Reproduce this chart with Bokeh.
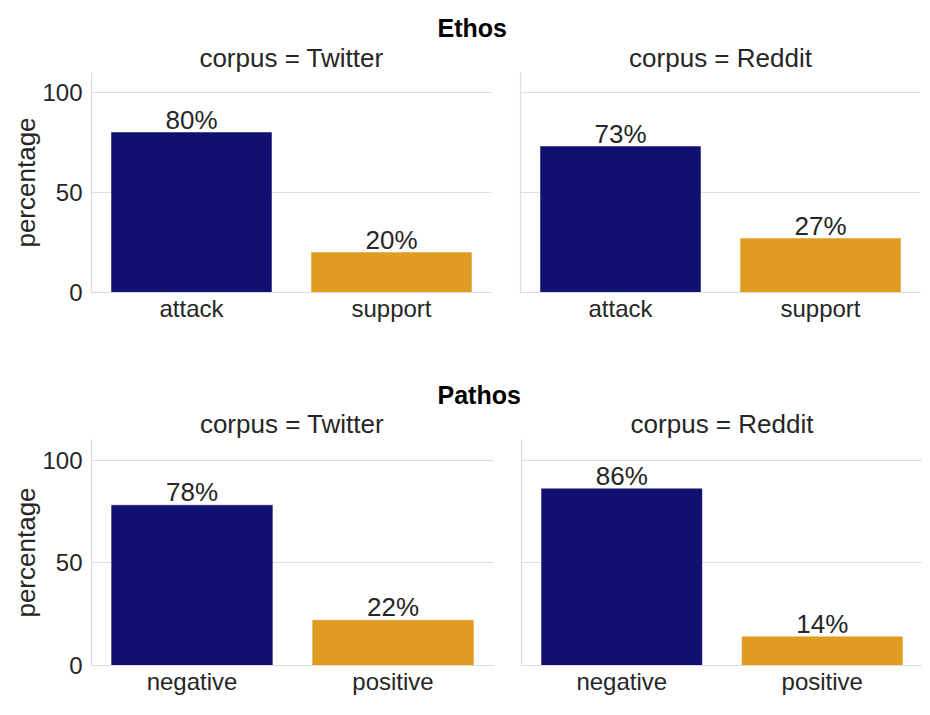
from bokeh.plotting import figure
from bokeh.models import Range1d, FactorRange, FixedTicker, ColumnDataSource
from bokeh.layouts import column, row
from bokeh.embed import file_html
from bokeh.resources import INLINE
from bokeh.core.properties import value

# ---------------- data ----------------
ethos_categories = ["attack", "support"]
pathos_categories = ["negative", "positive"]
corpora = ["Twitter", "Reddit"]
ethos_twitter = [80, 20]
ethos_reddit = [73, 27]
pathos_twitter = [78, 22]
pathos_reddit = [86, 14]
y_ticks = [0, 50, 100]
y_max = 110
section_titles = ["Ethos", "Pathos"]

# ---------------- style ----------------
FONT = "Liberation Sans"
TXT = "#262626"
GRID = "#dddddd"
BAR_COLORS = ["#101070", "#df9c20"]
TOTAL_W = 914


def panel(cats, vals, width, height, bl, br, bb, show_y):
    src = ColumnDataSource(dict(
        cat=cats, val=vals, label=[f"{v}%" for v in vals],
        color=BAR_COLORS[:len(cats)],
    ))
    p = figure(x_range=FactorRange(*cats), y_range=Range1d(0, y_max),
               width=width, height=height, output_backend="svg",
               toolbar_location=None,
               min_border_left=bl, min_border_right=br,
               min_border_top=0, min_border_bottom=bb)
    p.outline_line_color = None
    p.background_fill_color = "white"
    p.border_fill_color = "white"

    p.vbar(x="cat", top="val", width=0.8, source=src,
           fill_color="color", line_color="color", line_width=0.5)
    p.text(x="cat", y="val", text="label", source=src,
           text_align="center", text_baseline="bottom", y_offset=2,
           text_font=value(FONT), text_font_size="26px", text_color=TXT)

    p.xgrid.grid_line_color = None
    p.ygrid.grid_line_color = GRID
    p.ygrid.grid_line_width = 1.2
    p.ygrid.ticker = FixedTicker(ticks=y_ticks)

    p.xaxis.axis_line_color = GRID
    p.xaxis.axis_line_width = 1.2
    p.xaxis.major_tick_line_color = None
    p.xaxis.minor_tick_line_color = None
    p.xaxis.major_tick_out = 0
    p.xaxis.major_tick_in = 0
    p.xaxis.major_label_text_font = FONT
    p.xaxis.major_label_text_font_size = "24px"
    p.xaxis.major_label_text_color = TXT
    p.xaxis.major_label_standoff = 2

    p.yaxis.axis_line_color = GRID
    p.yaxis.axis_line_width = 1.2
    p.yaxis.major_tick_line_color = None
    p.yaxis.minor_tick_line_color = None
    p.yaxis.major_tick_out = 0
    p.yaxis.major_tick_in = 0
    if show_y:
        p.yaxis.ticker = FixedTicker(ticks=y_ticks)
        p.yaxis.axis_label = "percentage"
        p.yaxis.axis_label_text_font = FONT
        p.yaxis.axis_label_text_font_size = "26px"
        p.yaxis.axis_label_text_font_style = "normal"
        p.yaxis.axis_label_text_color = TXT
        p.yaxis.axis_label_standoff = -2
        p.yaxis.major_label_text_font = FONT
        p.yaxis.major_label_text_font_size = "24px"
        p.yaxis.major_label_text_color = TXT
        p.yaxis.major_label_standoff = 9
    else:
        p.yaxis.ticker = FixedTicker(ticks=[])
        p.yaxis.major_label_standoff = 0
    return p


def header(section, height, sec_from_top, title_from_top, centers):
    """Section title plus the two facet titles, above a row of panels."""
    h = figure(width=TOTAL_W, height=height, x_range=Range1d(0, TOTAL_W),
               y_range=Range1d(0, height), output_backend="svg",
               toolbar_location=None, min_border=0)
    h.axis.visible = False
    h.grid.visible = False
    h.outline_line_color = None
    h.text(x=[429], y=[height - sec_from_top], text=[section],
           text_align="left", text_baseline="middle", text_font=value(FONT),
           text_font_size="25px", text_font_style="bold", text_color="black")
    h.text(x=centers, y=[height - title_from_top] * len(centers),
           text=[f"corpus = {c}" for c in corpora],
           text_align="center", text_baseline="middle", text_font=value(FONT),
           text_font_size="26px", text_color=TXT)
    return h


# geometry of the panels (figure width, left / right border)
L_W, R_W = 492, 422
top_left = (L_W, 83, 9)
top_right = (R_W, 20, 2)
bot_left = (L_W, 82, 7)
bot_right = (R_W, 21, 0)


def frame_centers(left, right):
    c1 = left[1] + (left[0] - left[1] - left[2]) / 2
    c2 = left[0] + right[1] + (right[0] - right[1] - right[2]) / 2
    return [c1, c2]


h1 = header(section_titles[0], 64, 19, 49, frame_centers(top_left, top_right))
p1 = panel(ethos_categories, ethos_twitter, top_left[0], 288, top_left[1], top_left[2], 68, True)
p2 = panel(ethos_categories, ethos_reddit, top_right[0], 288, top_right[1], top_right[2], 68, False)
h2 = header(section_titles[1], 79, 34, 63, frame_centers(bot_left, bot_right))
p3 = panel(pathos_categories, pathos_twitter, bot_left[0], 266, bot_left[1], bot_left[2], 40, True)
p4 = panel(pathos_categories, pathos_reddit, bot_right[0], 266, bot_right[1], bot_right[2], 40, False)

layout = column(h1, row(p1, p2), h2, row(p3, p4), margin=(8, 0, 0, 8))
open("out.html", "w").write(file_html(layout, INLINE))
